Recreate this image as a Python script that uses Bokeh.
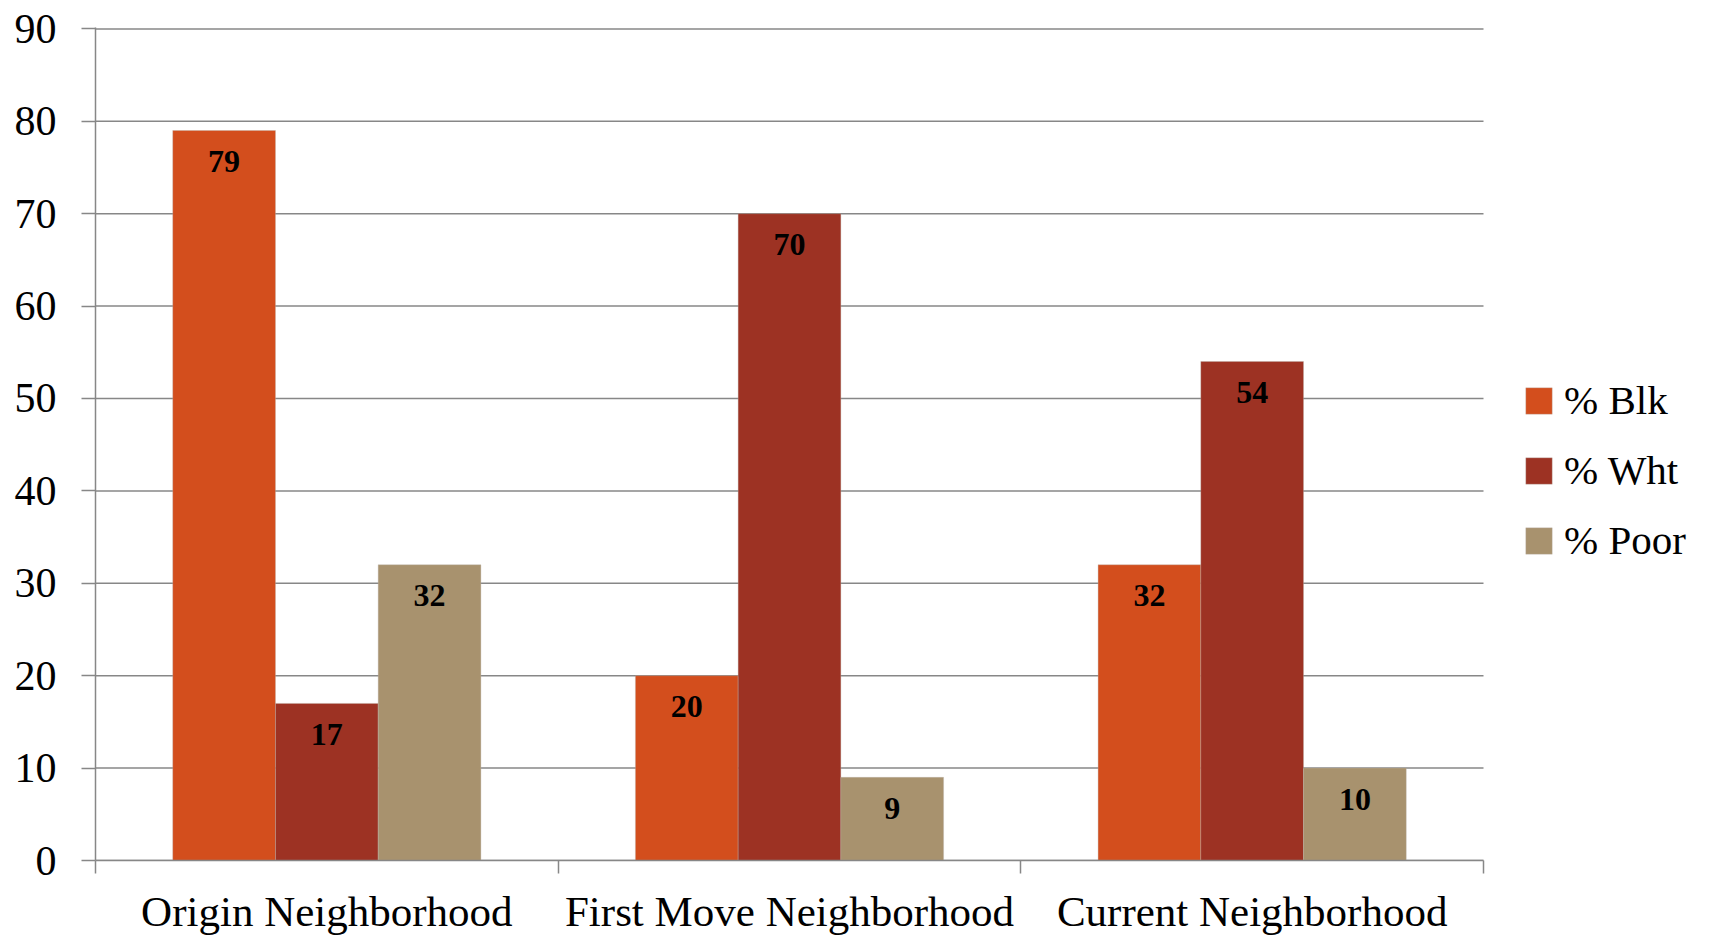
from bokeh.plotting import figure
from bokeh.models import ColumnDataSource, FixedTicker, Legend, LegendItem, Range1d
from bokeh.transform import dodge
from bokeh.core.properties import value
from bokeh.embed import file_html
from bokeh.resources import INLINE

categories = ["Origin Neighborhood", "First Move Neighborhood", "Current Neighborhood"]
series_names = ["% Blk", "% Wht", "% Poor"]
blk = [79, 20, 32]
wht = [17, 70, 54]
poor = [32, 9, 10]
y_ticks = [0, 10, 20, 30, 40, 50, 60, 70, 80, 90]

colors = ["#D34E1D", "#9D3223", "#A8926E"]
FONT = "Liberation Serif"

n = len(categories)
xc = [i + 0.5 for i in range(n)]
src = ColumnDataSource(dict(x=xc, blk=blk, wht=wht, poor=poor,
                            blk_t=[str(v) for v in blk],
                            wht_t=[str(v) for v in wht],
                            poor_t=[str(v) for v in poor]))

# frame extends to the right edge so that the legend (inside it) is not clipped;
# the category part (0..n) occupies left_px..cat_right_px
W, H = 1715, 942
left_px, cat_right_px, frame_right_px = 95, 1483, 1712
x_end = n * (frame_right_px - left_px) / (cat_right_px - left_px)

p = figure(width=W, height=H, output_backend="svg", toolbar_location=None,
           x_range=Range1d(0, x_end), y_range=Range1d(0, 90.15),
           min_border_left=left_px, min_border_right=W - frame_right_px,
           min_border_top=27, min_border_bottom=82)
p.outline_line_color = None
p.background_fill_color = "white"

# horizontal grid lines limited to the category area
gsrc = ColumnDataSource(dict(y=y_ticks, x0=[0] * len(y_ticks), x1=[n] * len(y_ticks)))
p.segment(x0="x0", x1="x1", y0="y", y1="y", source=gsrc, line_color="#878787", line_width=1.5)

bw = 0.222
offsets = [-bw, 0.0, bw]
cols = ["blk", "wht", "poor"]
renderers = []
for col, off, c in zip(cols, offsets, colors):
    r = p.vbar(x=dodge("x", off), top=col, width=bw, source=src, fill_color=c,
               line_color="#b8b0a8", line_width=0.6, line_alpha=0.6)
    renderers.append(r)
    p.text(x=dodge("x", off), y=col, text=col + "_t", source=src,
           text_align="center", text_baseline="middle", y_offset=31,
           text_font=value(FONT), text_font_size="32px", text_font_style="bold",
           text_color="black")

# axes
p.xgrid.visible = False
p.ygrid.visible = False

p.yaxis.ticker = FixedTicker(ticks=y_ticks)
p.yaxis.axis_line_color = "#878787"
p.yaxis.axis_line_width = 1.5
p.yaxis.major_tick_line_color = "#878787"
p.yaxis.major_tick_line_width = 1.5
p.yaxis.major_tick_out = 14
p.yaxis.major_tick_in = 0
p.yaxis.minor_tick_line_color = None
p.yaxis.major_label_text_font = FONT
p.yaxis.major_label_text_font_size = "42px"
p.yaxis.major_label_text_color = "black"
p.yaxis.major_label_standoff = 25

p.xaxis.bounds = (0, n)
p.xaxis.ticker = FixedTicker(ticks=xc, minor_ticks=list(range(n + 1)))
p.xaxis.major_label_overrides = {x: c for x, c in zip(xc, categories)}
p.xaxis.axis_line_color = "#878787"
p.xaxis.axis_line_width = 1.5
p.xaxis.major_tick_line_color = None
p.xaxis.major_tick_out = 0
p.xaxis.major_tick_in = 0
p.xaxis.minor_tick_line_color = "#878787"
p.xaxis.minor_tick_line_width = 1.5
p.xaxis.minor_tick_out = 13
p.xaxis.minor_tick_in = 0
p.xaxis.major_label_text_font = FONT
p.xaxis.major_label_text_font_size = "43px"
p.xaxis.major_label_text_color = "black"
p.xaxis.major_label_standoff = 14

legend = Legend(items=[LegendItem(label=s, renderers=[r]) for s, r in zip(series_names, renderers)],
                location=(1427, 296), padding=0, margin=0, spacing=22,
                glyph_width=33, glyph_height=33, label_height=48, label_standoff=9,
                label_text_font=FONT, label_text_font_size="41px", label_text_color="black",
                border_line_color=None, background_fill_alpha=0)
p.add_layout(legend)

open("out.html", "w").write(file_html(p, INLINE))
